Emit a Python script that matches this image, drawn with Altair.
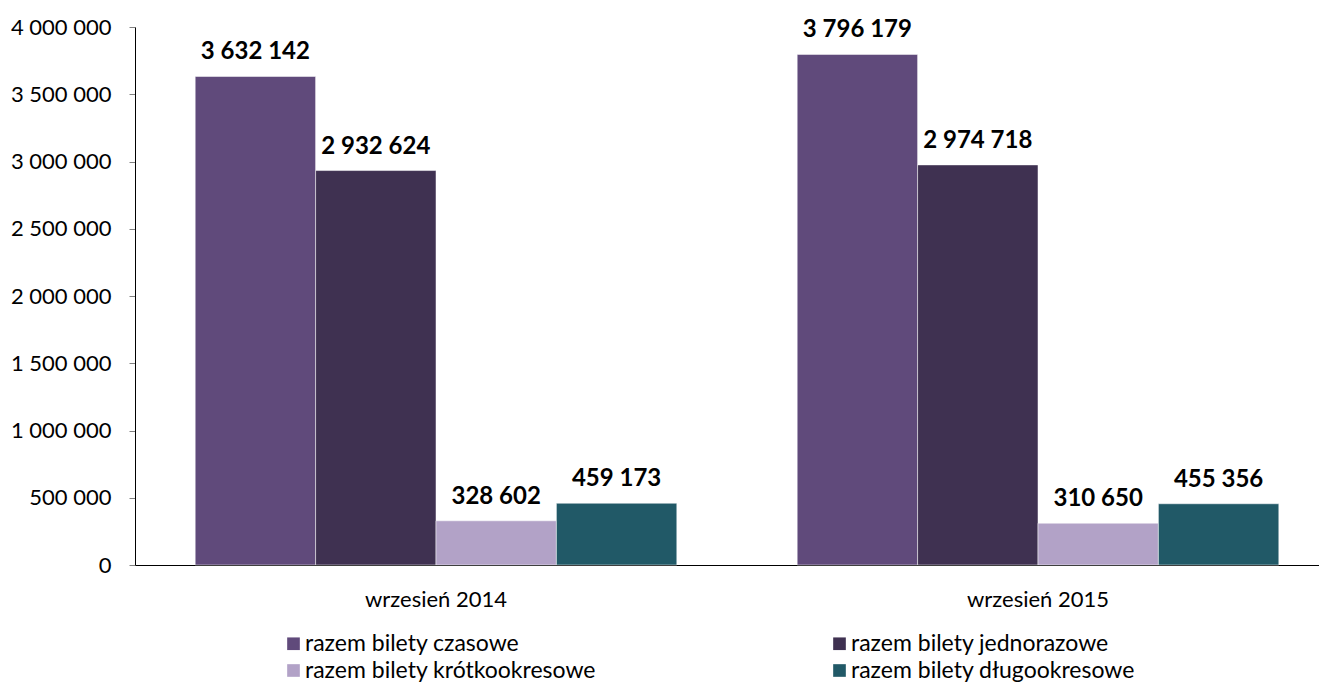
import altair as alt
import pandas as pd

categories = ["wrzesień 2014", "wrzesień 2015"]
series = [
    "razem bilety czasowe",
    "razem bilety jednorazowe",
    "razem bilety krótkookresowe",
    "razem bilety długookresowe",
]
values_2014 = [3632142, 2932624, 328602, 459173]
values_2015 = [3796179, 2974718, 310650, 455356]
colors = ["#604A7B", "#3F3151", "#B2A2C7", "#215967"]

rows = []
for cat, vals in zip(categories, [values_2014, values_2015]):
    for s, v in zip(series, vals):
        rows.append({"okres": cat, "seria": s, "wartosc": v,
                     "etykieta": f"{v:,}".replace(",", " ")})
df = pd.DataFrame(rows)

# legend is filled column-first: reorder so it reads row by row as in the original
legend_order = [series[0], series[2], series[1], series[3]]
legend_colors = [colors[0], colors[2], colors[1], colors[3]]

FONT = "Lato"

base = alt.Chart(df).encode(
    x=alt.X("okres:N", sort=categories, title=None,
            scale=alt.Scale(paddingInner=0.2, paddingOuter=0.1),
            axis=alt.Axis(labelAngle=0, ticks=False, labelPadding=24,
                          labelFontSize=22, labelFont=FONT, labelColor="#000",
                          domainColor="#000", domainWidth=1)),
    xOffset=alt.XOffset("seria:N", sort=series, scale=alt.Scale(paddingInner=0, paddingOuter=0)),
)

bars = base.mark_bar(stroke="white", strokeWidth=0.5).encode(
    y=alt.Y("wartosc:Q", title=None,
            scale=alt.Scale(domain=[0, 4000000], nice=False),
            axis=alt.Axis(values=list(range(0, 4000001, 500000)),
                          labelExpr="replace(format(datum.value, ',.0f'), /,/g, ' ')",
                          grid=False, tickSize=6, tickColor="#808080", labelPadding=18,
                          labelFontSize=22, labelFont=FONT, labelColor="#000",
                          domainColor="#000", domainWidth=1)),
    color=alt.Color("seria:N", sort=legend_order,
                    scale=alt.Scale(domain=legend_order, range=legend_colors),
                    legend=alt.Legend(title=None, orient="none", legendX=147, legendY=605,
                                      columns=2, columnPadding=231, rowPadding=3,
                                      symbolType="square", symbolSize=160,
                                      symbolStrokeWidth=0, labelOffset=0, labelLimit=0,
                                      labelFontSize=23, labelFont=FONT, labelColor="#000")),
)

labels = base.mark_text(fontWeight="bold", fontSize=24, font=FONT, dy=-24,
                        baseline="middle", color="#000").encode(
    y=alt.Y("wartosc:Q"),
    text="etykieta:N",
)

chart = (bars + labels).properties(
    width=1204, height=538,
    autosize=alt.AutoSizeParams(type="none"),
    padding={"left": 127, "top": 19, "right": -20, "bottom": 119},
).configure_view(stroke=None)

chart.save("out.html", embed_options={"renderer": "svg", "actions": False})
